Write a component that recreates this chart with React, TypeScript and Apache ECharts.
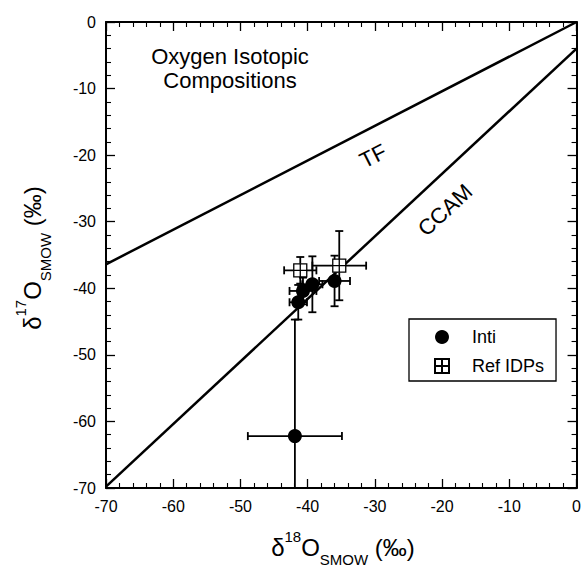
import React, { useEffect, useRef } from "react";
import * as echarts from "echarts";

// ---- data ----
const intiX = [-41.9, -41.4, -40.7, -39.3, -36.0];
const intiY = [-62.2, -42.1, -40.4, -39.4, -38.9];
const intiXErr = [7.0, 1.3, 2.0, 1.5, 2.3];
const intiYErr = [17.5, 2.6, 2.0, 4.2, 3.8];

const refX = [-41.1, -35.3];
const refY = [-37.3, -36.6];
const refXErr = [2.4, 4.0];
const refYErr = [2.0, 5.2];

const tfLine = [[-70, -36.4], [0, 0]];
const ccamLine = [[-70, -69.8], [0, -4.0]];

const axisMin = -70;
const axisMax = 0;
const tickInterval = 10;

const FONT = '"Liberation Sans", Arial, Helvetica, sans-serif';

const SQUARE_SYMBOL = "path://M0,0 L10,0 L10,10 L0,10 Z M5,0 L5,10 M0,5 L10,5";

function measure(text: string, size: number): number {
  const c = document.createElement("canvas").getContext("2d");
  if (!c) return text.length * size * 0.55;
  c.font = `${size}px "Liberation Sans"`;
  return c.measureText(text).width;
}

type Part = { text: string; size: number; dy: number };

function richTitle(parts: Part[], cx: number, cy: number, rotation: number) {
  const widths = parts.map((p) => measure(p.text, p.size));
  const total = widths.reduce((a, b) => a + b, 0);
  let x = -total / 2;
  const children = parts.map((p, i) => {
    const el = {
      type: "text",
      x,
      y: p.dy,
      style: {
        text: p.text,
        fontSize: p.size,
        fontFamily: FONT,
        fill: "#000",
        align: "left",
        verticalAlign: "middle",
      },
    };
    x += widths[i];
    return el;
  });
  return { type: "group", x: cx, y: cy, rotation, children };
}

function errData(xs: number[], ys: number[], xe: number[], ye: number[]) {
  return xs.map((x, i) => [x, ys[i], x - xe[i], x + xe[i], ys[i] - ye[i], ys[i] + ye[i]]);
}

function errRender(params: any, api: any) {
  const x = api.value(0);
  const y = api.value(1);
  const c = api.coord([x, y]);
  const xl = api.coord([api.value(2), y]);
  const xh = api.coord([api.value(3), y]);
  const yl = api.coord([x, api.value(4)]);
  const yh = api.coord([x, api.value(5)]);
  const cap = 4;
  const st = { stroke: "#000", lineWidth: 1.8 };
  const ln = (x1: number, y1: number, x2: number, y2: number) => ({
    type: "line",
    shape: { x1, y1, x2, y2 },
    style: st,
  });
  return {
    type: "group",
    children: [
      ln(xl[0], c[1], xh[0], c[1]),
      ln(xl[0], c[1] - cap, xl[0], c[1] + cap),
      ln(xh[0], c[1] - cap, xh[0], c[1] + cap),
      ln(c[0], yl[1], c[0], yh[1]),
      ln(c[0] - cap, yl[1], c[0] + cap, yl[1]),
      ln(c[0] - cap, yh[1], c[0] + cap, yh[1]),
    ],
  };
}

export default function App() {
  const ref = useRef<HTMLDivElement>(null);
  useEffect(() => {
    if (!ref.current) return;
    const chart = echarts.init(ref.current, undefined, { renderer: "svg" });

    const axisCommon = (pos: string, showLabel: boolean) => ({
      type: "value",
      position: pos,
      min: axisMin,
      max: axisMax,
      interval: tickInterval,
      axisLine: { show: true, onZero: false, lineStyle: { color: "#000", width: 2 } },
      axisTick: { show: true, inside: true, length: 9, lineStyle: { color: "#000", width: 1.3 } },
      minorTick: { show: true, splitNumber: 5, length: 5, lineStyle: { color: "#000", width: 1.1 } },
      splitLine: { show: false },
      axisLabel: {
        show: showLabel,
        color: "#000",
        fontSize: 16,
        fontFamily: FONT,
        margin: 10,
      },
    });

    const option: any = {
      animation: false,
      grid: { left: 106, top: 22, right: 4, bottom: 78, containLabel: false },
      xAxis: [axisCommon("bottom", true), axisCommon("top", false)],
      yAxis: [axisCommon("left", true), axisCommon("right", false)],
      legend: {
        data: [
          { name: "Inti", icon: "circle" },
          { name: "Ref IDPs", icon: SQUARE_SYMBOL },
        ],
        orient: "vertical",
        left: 409,
        top: 319,
        itemWidth: 50,
        itemHeight: 14,
        itemGap: 11,
        padding: [9, 12, 6, 25],
        borderColor: "#000",
        borderWidth: 1.3,
        backgroundColor: "#fff",
        textStyle: { fontSize: 18, fontFamily: FONT, color: "#000" },
      },
      graphic: [
        {
          type: "text",
          x: 230,
          y: 56,
          style: {
            text: "Oxygen Isotopic",
            fontSize: 22,
            fontFamily: FONT,
            fill: "#000",
            align: "center",
            verticalAlign: "middle",
          },
        },
        {
          type: "text",
          x: 230,
          y: 80,
          style: {
            text: "Compositions",
            fontSize: 22,
            fontFamily: FONT,
            fill: "#000",
            align: "center",
            verticalAlign: "middle",
          },
        },
        {
          type: "text",
          x: 373,
          y: 156,
          rotation: (27 * Math.PI) / 180,
          style: {
            text: "TF",
            fontSize: 22,
            fontFamily: FONT,
            fill: "#000",
            align: "center",
            verticalAlign: "middle",
          },
        },
        {
          type: "text",
          x: 445,
          y: 210,
          rotation: (43 * Math.PI) / 180,
          style: {
            text: "CCAM",
            fontSize: 22,
            fontFamily: FONT,
            fill: "#000",
            align: "center",
            verticalAlign: "middle",
          },
        },
        richTitle(
          [
            { text: "δ", size: 24, dy: 0 },
            { text: "18", size: 15, dy: -11 },
            { text: "O", size: 24, dy: 0 },
            { text: "SMOW", size: 15, dy: 12 },
            { text: " (‰)", size: 24, dy: 0 },
          ],
          343,
          547,
          0
        ),
        richTitle(
          [
            { text: "δ", size: 24, dy: 0 },
            { text: "17", size: 15, dy: -12 },
            { text: "O", size: 24, dy: 0 },
            { text: "SMOW", size: 15, dy: 13 },
            { text: " (‰)", size: 24, dy: 0 },
          ],
          32,
          258,
          Math.PI / 2
        ),
      ],
      series: [
        {
          name: "TF",
          type: "line",
          data: tfLine,
          symbol: "none",
          lineStyle: { color: "#000", width: 2.5 },
          z: 2,
        },
        {
          name: "CCAM",
          type: "line",
          data: ccamLine,
          symbol: "none",
          lineStyle: { color: "#000", width: 2.5 },
          z: 2,
        },
        {
          name: "Inti error",
          type: "custom",
          renderItem: errRender,
          data: errData(intiX, intiY, intiXErr, intiYErr),
          clip: true,
          z: 3,
        },
        {
          name: "Ref error",
          type: "custom",
          renderItem: errRender,
          data: errData(refX, refY, refXErr, refYErr),
          clip: true,
          z: 3,
        },
        {
          name: "Inti",
          type: "scatter",
          data: intiX.map((x, i) => [x, intiY[i]]),
          symbol: "circle",
          symbolSize: 14,
          itemStyle: { color: "#000", opacity: 1 },
          z: 5,
        },
        {
          name: "Ref IDPs",
          type: "scatter",
          data: refX.map((x, i) => [x, refY[i]]),
          symbol: SQUARE_SYMBOL,
          symbolSize: 13,
          itemStyle: { color: "#fff", borderColor: "#000", borderWidth: 1.3, opacity: 1 },
          z: 6,
        },
      ],
    };
    chart.setOption(option);
    return () => chart.dispose();
  }, []);
  return (
    <div
      ref={ref}
      style={{ position: "fixed", left: 0, top: 0, width: 584, height: 566, background: "#fff" }}
    />
  );
}
